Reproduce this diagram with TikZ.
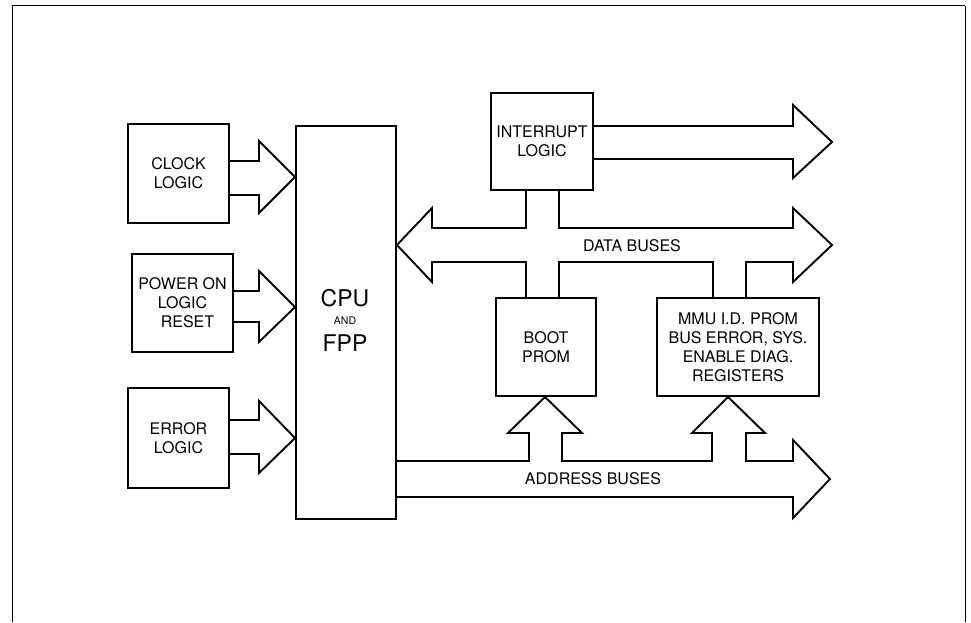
\documentclass[tikz,border=0pt]{standalone}
\usepackage{fontspec}
\setmainfont{TeX Gyre Heros}
\begin{document}
\begin{tikzpicture}[x=1pt,y=-1pt,
  lw/.style={line width=1.9pt},
  blk/.style={draw,lw,inner sep=0pt,align=center,font=\fontsize{16}{19}\selectfont},
  bus/.style={draw,lw,line join=miter},
  lbl/.style={inner sep=0pt,font=\fontsize{16}{19}\selectfont}]
\useasboundingbox (0,0) rectangle (971,622);
% outer frame
\draw[line width=1.8pt] (12.5,622) -- (12.5,5.5) -- (965,5.5);
\draw[line width=1pt] (965,5.5) -- (965,622);
% boxes
\node[blk,minimum width=101pt,minimum height=99pt] (clock) at (178.5,173.5) {CLOCK\\LOGIC};
\node[blk,minimum width=101pt,minimum height=98pt] (power) at (182.5,303) {POWER ON\\LOGIC\\\hspace*{10pt}RESET};
\node[blk,minimum width=101pt,minimum height=100pt] (error) at (178.5,438) {ERROR\\LOGIC};
\node[blk,minimum width=100pt,minimum height=393pt] (cpu) at (346,322.5) {};
\node[inner sep=0pt,font=\fontsize{23}{23}\selectfont] (cpuw) at (345,298) {CPU};
\node[inner sep=0pt,font=\fontsize{10.5}{10.5}\selectfont] (andw) at (345,321) {AND};
\node[inner sep=0pt,font=\fontsize{23}{23}\selectfont] (fppw) at (345,343) {FPP};
\node[blk,minimum width=102pt,minimum height=97pt] (intr) at (542,141.5) {INTERRUPT\\LOGIC};
\node[blk,minimum width=100pt,minimum height=98pt] (boot) at (546,347) {BOOT\\PROM};
\node[blk,minimum width=162pt,minimum height=98pt] (mmu) at (738,347) {MMU I.D. PROM\\BUS ERROR, SYS.\\ENABLE DIAG.\\REGISTERS};
% input arrows into CPU
\draw[bus] (clock.east |- 0,161) -- (259,161) -- (259,141) -- (cpu.west |- 0,177) -- (259,213) -- (259,195) -- (clock.east |- 0,195);
\draw[bus] (power.east |- 0,291) -- (259,291) -- (259,271) -- (cpu.west |- 0,307) -- (259,342) -- (259,322) -- (power.east |- 0,322);
\draw[bus] (error.east |- 0,420) -- (259,420) -- (259,401) -- (cpu.west |- 0,438) -- (259,473) -- (259,454) -- (error.east |- 0,454);
% interrupt output arrow
\draw[bus] (intr.east |- 0,126) -- (793,126) -- (793,105) -- (832,142) -- (793,178) -- (793,159) -- (intr.east |- 0,159);
% data buses
\draw[bus] (526,0 |- intr.south) -- (526,228) -- (432,228) -- (432,208) -- (cpu.east |- 0,245) -- (432,282) -- (432,262) -- (526,262) -- (526,0 |- boot.north);
\draw[bus] (559,0 |- intr.south) -- (559,228) -- (793,228) -- (793,208) -- (832,245) -- (793,282) -- (793,262) -- (746,262) -- (746,0 |- mmu.north);
\draw[bus] (559,0 |- boot.north) -- (559,262) -- (713,262) -- (713,0 |- mmu.north);
\node[lbl] (dlbl) at (632,246) {DATA BUSES};
% address buses
\draw[bus] (cpu.east |- 0,461) -- (529,461) -- (529,433) -- (508,433) -- (545,0 |- boot.south) -- (582,433) -- (562,433) -- (562,461)
  -- (712,461) -- (712,433) -- (692,433) -- (728,0 |- mmu.south) -- (765,433) -- (746,433) -- (746,461)
  -- (793,461) -- (793,440) -- (830,479) -- (793,518) -- (793,497) -- (cpu.east |- 0,497);
\node[lbl] (albl) at (593,479) {ADDRESS BUSES};
\end{tikzpicture}
\end{document}
